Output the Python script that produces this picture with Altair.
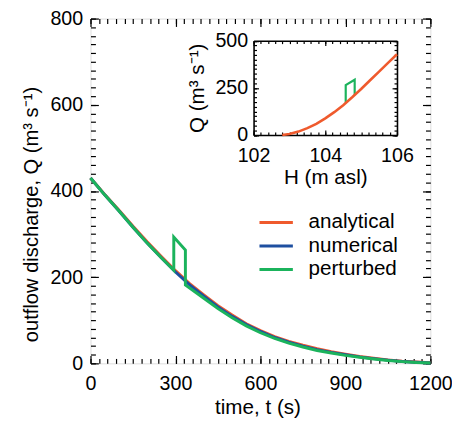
import altair as alt
import pandas as pd

# ---------------- data ----------------
t_grid = [0, 50, 100, 150, 200, 250, 300, 350, 400, 450, 500, 550, 600,
          650, 700, 750, 800, 850, 900, 950, 1000, 1050, 1100, 1150, 1200]
q_analytical = [430, 392, 356, 318, 282, 248, 215, 185, 159, 134, 112, 92, 76,
                62, 51, 42, 34, 27, 21.5, 16, 12, 8, 5, 3, 1.5]
q_numerical = [430, 391, 354, 316, 279, 245, 212, 182, 156, 131, 109, 90, 74,
               60, 49, 40, 32, 25.5, 20, 15, 11, 7.5, 4.5, 2.5, 1]
t_perturbed = [0, 50, 100, 150, 200, 250, 294, 294, 335, 335, 350, 400, 450, 500,
               550, 600, 650, 700, 750, 800, 850, 900, 950, 1000, 1050, 1100, 1150, 1200]
q_perturbed = [430, 391, 354, 316, 279, 245, 216, 293, 263, 182, 175, 151, 127, 106,
               87, 71, 58, 47, 38, 30, 24, 18.5, 14, 10, 6.5, 4, 2, 1]

h_rating = [102.8, 103.0, 103.25, 103.5, 103.75, 104.0, 104.25, 104.5, 104.75,
            105.0, 105.25, 105.5, 105.75, 106.0]
q_rating = [0, 5, 18, 36, 59, 88, 121, 158, 200, 244, 290, 336, 382, 428]
h_spike = [104.82, 104.82, 104.57, 104.57]
q_spike = [213, 293, 265, 171]

series_names = ["analytical", "numerical", "perturbed"]
series_colors = ["#EF5A2D", "#1E4FA0", "#1BB35C"]

x_major = [0, 300, 600, 900, 1200]
x_minor = list(range(0, 1201, 30))
y_major = [0, 200, 400, 600, 800]
y_minor = list(range(0, 801, 20))
h_major = [102, 104, 106]
h_minor = [round(102 + 0.2 * k, 1) for k in range(21)]
qi_major = [0, 250, 500]
qi_minor = list(range(0, 501, 25))

x_title = "time, t (s)"
y_title = "outflow discharge, Q (m³ s⁻¹)"
h_title = "H (m asl)"
qi_title = "Q (m³ s⁻¹)"

FONT = "Liberation Sans"
W, H = 346, 351

def frame(xs, ys, name):
    return pd.DataFrame({"t": xs, "Q": ys, "series": name, "i": list(range(len(xs)))})

df_a = frame(t_grid, q_analytical, "analytical")
df_n = frame(t_grid, q_numerical, "numerical")
df_p = frame(t_perturbed, q_perturbed, "perturbed")
df_r = pd.DataFrame({"H": h_rating, "Q": q_rating, "i": list(range(len(h_rating)))})
df_s = pd.DataFrame({"H": h_spike, "Q": q_spike, "i": list(range(len(h_spike)))})

# ---------------- axis helpers ----------------
def tick_axis(orient, values, size, offset=0, domain=False):
    return alt.Axis(orient=orient, values=values, labels=False, ticks=True,
                    tickSize=alt.ExprRef(expr=str(-size)), tickColor="black",
                    tickWidth=1.2, domain=domain, domainColor="black",
                    domainWidth=1.6, grid=False, title=None, offset=offset)

def label_axis(orient, values, padding, title, tx, ty, offset=0, tsize=21):
    kw = dict(orient=orient, values=values, labels=True, ticks=False, tickSize=0,
              domain=False, grid=False, labelPadding=padding, labelFontSize=20,
              labelFont=FONT, labelColor="black", labelFlush=False,
              labelOverlap=False, format="d", title=title, titleX=tx, titleY=ty,
              titleFontSize=tsize, titleFont=FONT, titleFontWeight="normal",
              titleColor="black", titleBaseline="alphabetic", offset=offset)
    if orient == "bottom":
        kw["labelBaseline"] = "alphabetic"
    return alt.Axis(**kw)

x_scale = alt.Scale(domain=[0, 1200], nice=False, zero=False)
y_scale = alt.Scale(domain=[0, 800], nice=False, zero=False)
h_scale = alt.Scale(domain=[102, 106], range=[166, 312], nice=False, zero=False)
qi_scale = alt.Scale(domain=[0, 500], range=[118.5, 22.5], nice=False, zero=False)

color_scale = alt.Scale(domain=series_names, range=series_colors)
legend = alt.Legend(orient="none", legendX=178.5, legendY=197, title=None,
                    symbolType="M-2,0H2", symbolSize=289, symbolStrokeWidth=3,
                    labelFontSize=21, labelFont=FONT, labelColor="black",
                    labelOffset=22.5, rowPadding=2, padding=0)

def main_line(df, xa, ya):
    return alt.Chart(df).mark_line(strokeWidth=3).encode(
        x=alt.X("t:Q", scale=x_scale, axis=xa),
        y=alt.Y("Q:Q", scale=y_scale, axis=ya),
        color=alt.Color("series:N", scale=color_scale, legend=legend),
        order=alt.Order("i:Q"),
    )

def ghost(df, xa, ya, xf="t", sx=x_scale, sy=y_scale):
    return alt.Chart(df).mark_line(opacity=0).encode(
        x=alt.X(f"{xf}:Q", scale=sx, axis=xa),
        y=alt.Y("Q:Q", scale=sy, axis=ya),
        order=alt.Order("i:Q"),
    )

main = alt.layer(
    main_line(df_a,
              label_axis("bottom", x_major, 27, x_title, W / 2 - 3, 51),
              label_axis("left", y_major, 8, y_title, -53.5, 199, tsize=20.5)),
    main_line(df_n, tick_axis("bottom", x_major, 8), tick_axis("left", y_major, 8)),
    main_line(df_p, tick_axis("bottom", x_minor, 5), tick_axis("left", y_minor, 5)),
    ghost(df_a, tick_axis("top", x_major, 8), tick_axis("right", y_major, 8)),
    ghost(df_a, tick_axis("top", x_minor, 5), tick_axis("right", y_minor, 5)),
).resolve_axis(x="independent", y="independent")

inset_off_b = 118.5 - H
inset_off_l = -166
inset_off_t = -22.5
inset_off_r = -(W - 312)

def inset_line(df, color, width, xa, ya):
    return alt.Chart(df).mark_line(strokeWidth=width, color=color).encode(
        x=alt.X("H:Q", scale=h_scale, axis=xa),
        y=alt.Y("Q:Q", scale=qi_scale, axis=ya),
        order=alt.Order("i:Q"),
    )

inset = alt.layer(
    inset_line(df_s, series_colors[2], 2.2,
               label_axis("bottom", h_major, 27, h_title, 239, 49, offset=inset_off_b),
               label_axis("left", qi_major, 6, qi_title, -51.3, 70.5, offset=inset_off_l)),
    inset_line(df_r, series_colors[0], 2.6,
               tick_axis("bottom", h_major, 5, offset=inset_off_b, domain=True),
               tick_axis("left", qi_major, 5, offset=inset_off_l, domain=True)),
    ghost(df_r, tick_axis("bottom", h_minor, 3, offset=inset_off_b),
          tick_axis("left", qi_minor, 3, offset=inset_off_l), "H", h_scale, qi_scale),
    ghost(df_r, tick_axis("top", h_major, 5, offset=inset_off_t, domain=True),
          tick_axis("right", qi_major, 5, offset=inset_off_r, domain=True), "H", h_scale, qi_scale),
    ghost(df_r, tick_axis("top", h_minor, 3, offset=inset_off_t),
          tick_axis("right", qi_minor, 3, offset=inset_off_r), "H", h_scale, qi_scale),
).resolve_axis(x="independent", y="independent")

chart = alt.layer(main, inset).resolve_scale(
    x="independent", y="independent"
).properties(
    width=W, height=H,
    autosize=alt.AutoSizeParams(type="none"),
    padding={"left": 84, "top": 7, "right": 22, "bottom": 60},
).configure_view(stroke="black", strokeWidth=1.6).configure(background="white")

chart.save("out.html", embed_options={"renderer": "svg", "actions": False})
